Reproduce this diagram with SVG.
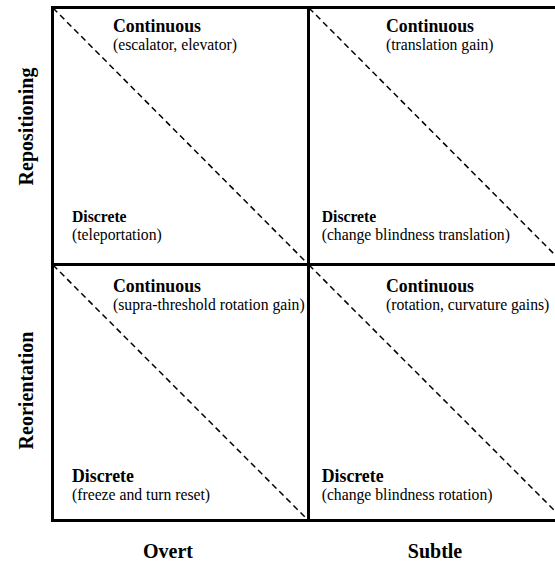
<svg xmlns="http://www.w3.org/2000/svg" width="555" height="566" viewBox="0 0 555 566">
<style>
text{font-family:"Liberation Serif","DejaVu Serif",serif;fill:#000}
.h{font-weight:bold;font-size:17.8px}
.hs{font-weight:bold;font-size:15.7px}
.r{font-size:15.7px}
.ax{font-weight:bold;font-size:20px}
.grid{fill:none;stroke:#000;stroke-width:3}
.diag{stroke:#000;stroke-width:1.5;stroke-dasharray:6 4;fill:none}
</style>
<rect width="555" height="566" fill="#fff"/>
<g id="diagonals">
<line class="diag" x1="53" y1="8" x2="308" y2="264"/>
<line class="diag" x1="309" y1="8" x2="565" y2="265"/>
<line class="diag" x1="53" y1="265" x2="308" y2="520"/>
<line class="diag" x1="309" y1="265" x2="565" y2="521"/>
</g>
<g id="grid">
<rect class="grid" x="52.5" y="7.5" width="520" height="513"/>
<line class="grid" x1="308.5" y1="7.5" x2="308.5" y2="520.5"/>
<line class="grid" x1="52.5" y1="264.5" x2="572" y2="264.5"/>
</g>
<g id="cell-overt-repositioning" font-family="Liberation Serif, serif">
<text class="h" x="113" y="32.3">Continuous</text>
<text class="r" x="113" y="50">(escalator, elevator)</text>
<text class="hs" x="72" y="221.7">Discrete</text>
<text class="r" x="72" y="239.5">(teleportation)</text>
</g>
<g id="cell-subtle-repositioning">
<text class="h" x="386" y="32.3">Continuous</text>
<text class="r" x="386" y="50">(translation gain)</text>
<text class="hs" x="321.7" y="221.7">Discrete</text>
<text class="r" x="321.7" y="239.5">(change blindness translation)</text>
</g>
<g id="cell-overt-reorientation">
<text class="h" x="113" y="292.3">Continuous</text>
<text class="r" x="113" y="310">(supra-threshold rotation gain)</text>
<text class="h" x="72" y="481.7">Discrete</text>
<text class="r" x="72" y="500">(freeze and turn reset)</text>
</g>
<g id="cell-subtle-reorientation">
<text class="h" x="386" y="292.3">Continuous</text>
<text class="r" x="386" y="310">(rotation, curvature gains)</text>
<text class="h" x="321.7" y="481.7">Discrete</text>
<text class="r" x="321.7" y="500">(change blindness rotation)</text>
</g>
<g id="axis-labels">
<text class="ax" text-anchor="middle" transform="translate(33,126.5) rotate(-90)">Repositioning</text>
<text class="ax" text-anchor="middle" transform="translate(33,390.5) rotate(-90)">Reorientation</text>
<text class="ax" text-anchor="middle" x="168" y="558">Overt</text>
<text class="ax" text-anchor="middle" x="435" y="558">Subtle</text>
</g>
</svg>
